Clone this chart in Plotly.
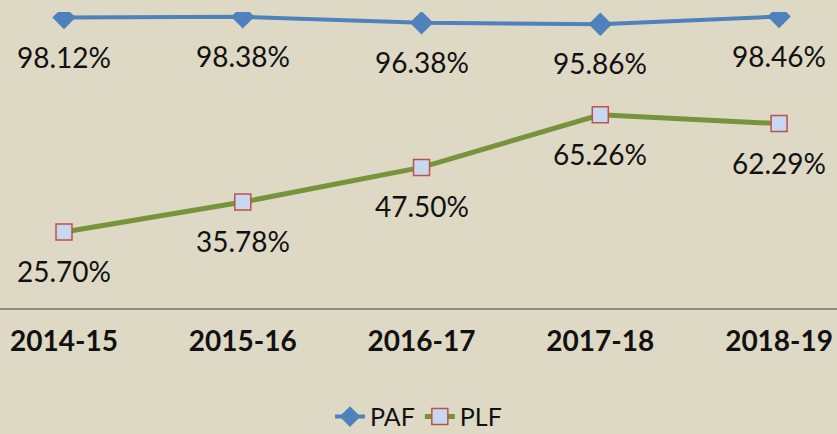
"""
PAF / PLF trend chart - Plotly
"""

import plotly.graph_objects as go

years = ['2014-15', '2015-16', '2016-17', '2017-18', '2018-19']
paf = [98.12, 98.38, 96.38, 95.86, 98.46]
plf = [25.70, 35.78, 47.50, 65.26, 62.29]

BG = '#DDD9C4'
FONT = 'Lato'

fig = go.Figure()

fig.add_trace(go.Scatter(
    x=years, y=paf, name='PAF', mode='lines+markers',
    line=dict(color='#4F81BD', width=4),
    marker=dict(symbol='diamond', size=18, color='#4F81BD'),
))
fig.add_trace(go.Scatter(
    x=years, y=plf, name='PLF', mode='lines+markers',
    line=dict(color='#77933C', width=5),
    marker=dict(symbol='square', size=16, color='#C6D9F1',
                line=dict(color='#C0504D', width=1.5)),
))

# data labels below each point
annotations = []
for series in (paf, plf):
    for yr, v in zip(years, series):
        annotations.append(dict(
            x=yr, y=v, text=f'{v:.2f}%', showarrow=False,
            yshift=-39, font=dict(family=FONT, size=28, color='#111111'),
        ))

fig.update_layout(
    width=837, height=434,
    paper_bgcolor=BG, plot_bgcolor=BG,
    margin=dict(l=0, r=0, t=12, b=126, autoexpand=False),
    annotations=annotations,
    showlegend=True,
    legend=dict(orientation='h', x=0.5, xanchor='center', y=-0.29, yanchor='top',
                font=dict(family=FONT, size=25, color='#111111'),
                bgcolor='rgba(0,0,0,0)'),
)

fig.update_xaxes(
    type='category', range=[-0.358, 4.324],
    showline=True, linecolor='#8C8C8C', linewidth=2,
    showgrid=False, ticks='', ticklabelstandoff=7,
    tickfont=dict(family=FONT, size=28, color='#111111', weight='bold'),
)
fig.update_yaxes(range=[0, 100], visible=False)

# no page margin so the figure sits at the window's corner
fig.write_html("out.html", config={'displayModeBar': False},
               post_script="document.body.style.margin='0';")
